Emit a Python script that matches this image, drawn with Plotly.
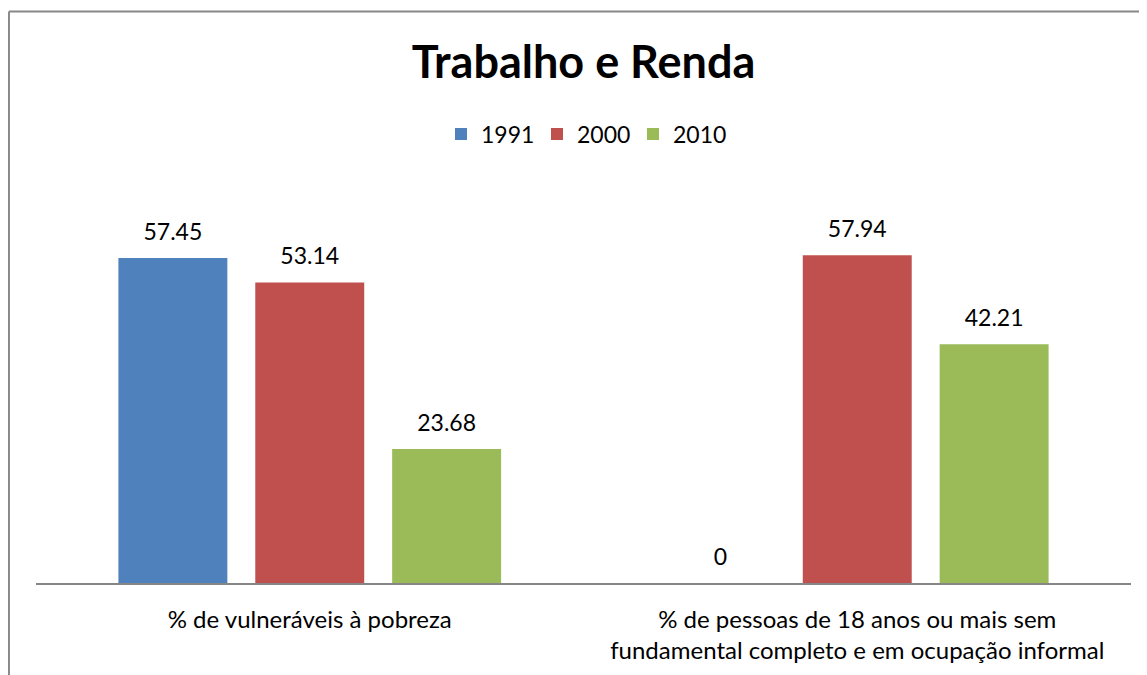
import plotly.graph_objects as go

categories = ["% de vulneráveis à pobreza",
              "% de pessoas de 18 anos ou mais sem<br>fundamental completo e em ocupação informal"]
years = ["1991", "2000", "2010"]
values_1991 = [57.45, 0]
values_2000 = [53.14, 57.94]
values_2010 = [23.68, 42.21]
series = [values_1991, values_2000, values_2010]
colors = ["#4F81BD", "#C0504D", "#9BBB59"]

FONT = "Lato, Carlito, Calibri, sans-serif"

fig = go.Figure()
for name, vals, col in zip(years, series, colors):
    fig.add_trace(go.Bar(
        x=categories, y=vals, name=name, marker_color=col,
        marker_line_width=0, hoverinfo="x+y+name", offsetgroup=name,
    ))
for name, vals in zip(years, series):
    fig.add_trace(go.Scatter(
        x=categories, y=vals, mode="markers+text", showlegend=False,
        text=[f"{v:g}" for v in vals], textposition="top center",
        textfont=dict(family=FONT, size=23, color="#000000"),
        marker=dict(size=18, opacity=0), hoverinfo="skip",
        offsetgroup=name,
    ))

# The page body adds an 8px margin; the figure is sized/positioned to compensate.
W, H = 1139, 667
fig.update_layout(
    width=W, height=H,
    paper_bgcolor="white", plot_bgcolor="white",
    margin=dict(l=28, r=16, t=179, b=92),
    barmode="group", bargap=0.25, bargroupgap=0.204,
    scattermode="group", scattergap=0.25,
    font=dict(family=FONT, size=23, color="#000000"),
    title=dict(text="<b>Trabalho e Renda</b>", x=575.5 / W, xref="container", xanchor="center",
               y=1 - 54 / H, yref="container", yanchor="middle",
               font=dict(family=FONT, size=45, color="#000000")),
    legend=dict(orientation="h", x=577 / W, xref="container", xanchor="center",
                y=1 - 126 / H, yref="container", yanchor="middle",
                font=dict(family=FONT, size=23, color="#000000"),
                entrywidth=51, itemclick=False),
    showlegend=True,
    xaxis=dict(showline=True, linecolor="#868686", linewidth=2, ticks="",
               showgrid=False, zeroline=False, ticklabelstandoff=14,
               tickfont=dict(family=FONT, size=24, color="#000000")),
    yaxis=dict(range=[0, 70], visible=False, showgrid=False, zeroline=False),
    shapes=[
        dict(type="line", xref="paper", yref="paper", x0=-0.0247, x1=1.2, y0=1.4432, y1=1.4432,
             line=dict(color="#888888", width=2)),
        dict(type="line", xref="paper", yref="paper", x0=-0.0247, x1=-0.0247, y0=-0.4, y1=1.4432,
             line=dict(color="#888888", width=2)),
    ],
)

fig.write_html("out.html")
